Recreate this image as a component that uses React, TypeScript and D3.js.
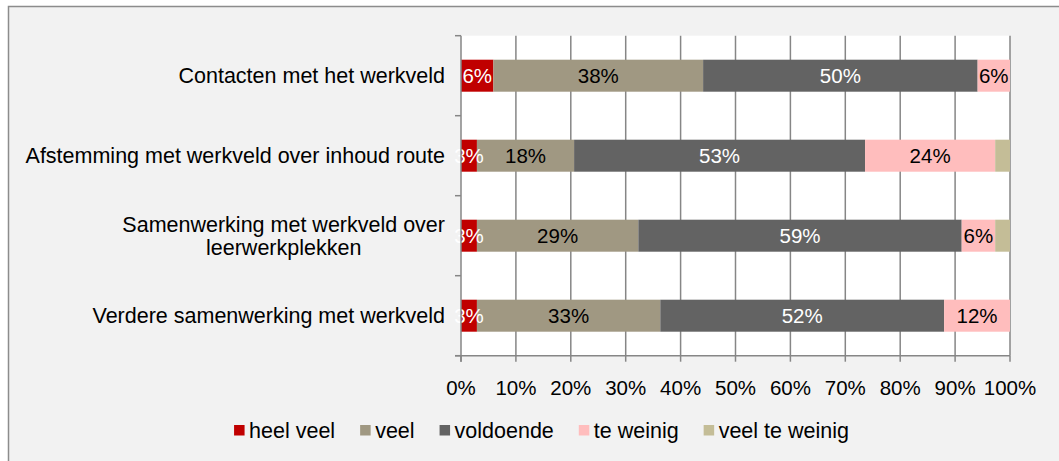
import React from "react";
import * as d3 from "d3";

const categories = [
  "Contacten met het werkveld",
  "Afstemming met werkveld over inhoud route",
  "Samenwerking met werkveld over\nleerwerkplekken",
  "Verdere samenwerking met werkveld",
];
const seriesNames = ["heel veel", "veel", "voldoende", "te weinig", "veel te weinig"];
const heelVeel = [5.9, 2.9, 2.9, 2.9];
const veel = [38.2, 17.7, 29.4, 33.4];
const voldoende = [50.0, 53.0, 58.9, 51.7];
const teWeinig = [5.9, 23.7, 6.1, 12.0];
const veelTeWeinig = [0, 2.7, 2.7, 0];
const labelHeelVeel = ["6%", "3%", "3%", "3%"];
const labelVeel = ["38%", "18%", "29%", "33%"];
const labelVoldoende = ["50%", "53%", "59%", "52%"];
const labelTeWeinig = ["6%", "24%", "6%", "12%"];
const labelVeelTeWeinig = ["", "", "", ""];
const xTicks = [0, 10, 20, 30, 40, 50, 60, 70, 80, 90, 100];

const colors = ["#C00000", "#A09882", "#636363", "#FFBDBD", "#C4BD97"];
const labelColors = ["#ffffff", "#000000", "#ffffff", "#000000", "#000000"];
const FONT = "Liberation Sans, Arial, sans-serif";
const FS = 20.5;
const FS_CAT = 21.5;

function measure(text: string, fs: number): number {
  if (typeof document === "undefined") return text.length * fs * 0.5;
  const c = document.createElement("canvas");
  const ctx = c.getContext("2d");
  if (!ctx) return text.length * fs * 0.5;
  ctx.font = `${fs}px "Liberation Sans"`;
  return ctx.measureText(text).width;
}

export default function App() {
  const W = 1059;
  const H = 461;
  const left = 461;
  const right = 1010;
  const top = 35.7;
  const bottom = 355.7;
  const gridColor = "#868686";

  const x = d3.scaleLinear().domain([0, 100]).range([left, right]);
  const y = d3.scaleBand<string>().domain(categories).range([top, bottom]).padding(0);
  const barH = y.bandwidth() * 0.4;

  const rows = categories.map((c, i) => ({
    cat: c,
    "heel veel": heelVeel[i],
    veel: veel[i],
    voldoende: voldoende[i],
    "te weinig": teWeinig[i],
    "veel te weinig": veelTeWeinig[i],
  }));
  const labels = [labelHeelVeel, labelVeel, labelVoldoende, labelTeWeinig, labelVeelTeWeinig];
  const stacked = d3.stack<any>().keys(seriesNames)(rows);

  // legend layout
  const legendY = 431;
  const legendWidths = seriesNames.map((n) => 15 + measure(n, FS_CAT));
  const gap = 25;
  const totalLegend = d3.sum(legendWidths) + gap * (seriesNames.length - 1);
  let lx = 541.5 - totalLegend / 2;
  const legendPos = legendWidths.map((w) => {
    const p = lx;
    lx += w + gap;
    return p;
  });

  return (
    <svg
      width={W}
      height={H}
      style={{ position: "absolute", left: 0, top: 0, display: "block" }}
      fontFamily={FONT}
    >
      <rect x={0} y={0} width={W} height={H} fill="#ffffff" />
      <rect x={8.5} y={6.5} width={W + 20} height={H + 20} fill="#F2F2F2" stroke="#8c8c8c" strokeWidth={1.5} />
      <rect x={left} y={top} width={right - left} height={bottom - top} fill="#ffffff" />

      {/* vertical gridlines */}
      {xTicks.slice(1).map((t) => (
        <line key={"g" + t} x1={x(t)} x2={x(t)} y1={top} y2={bottom} stroke={gridColor} strokeWidth={1.5} />
      ))}

      {/* bars */}
      {stacked.map((s, si) => (
        <g key={s.key}>
          {s.map((d, i) => {
            const w = x(d[1]) - x(d[0]);
            if (w <= 0) return null;
            const yy = (y(categories[i]) as number) + (y.bandwidth() - barH) / 2;
            return <rect key={i} x={x(d[0])} y={yy} width={w} height={barH} fill={colors[si]} />;
          })}
        </g>
      ))}

      {/* data labels */}
      {stacked.map((s, si) => (
        <g key={"l" + s.key}>
          {s.map((d, i) => {
            const lab = labels[si][i];
            if (!lab) return null;
            const cy = (y(categories[i]) as number) + y.bandwidth() / 2;
            return (
              <text
                key={i}
                x={(x(d[0]) + x(d[1])) / 2}
                y={cy + 7.3}
                textAnchor="middle"
                fontSize={FS}
                fill={labelColors[si]}
              >
                {lab}
              </text>
            );
          })}
        </g>
      ))}

      {/* left axis */}
      <line x1={left} x2={left} y1={top} y2={bottom + 6} stroke={gridColor} strokeWidth={1.5} />
      {[...categories.map((c) => y(c) as number), bottom].map((v, i) => (
        <line key={"yt" + i} x1={left - 6} x2={left} y1={v} y2={v} stroke={gridColor} strokeWidth={1.5} />
      ))}

      {/* bottom axis */}
      <line x1={left - 6} x2={right} y1={bottom} y2={bottom} stroke={gridColor} strokeWidth={1.5} />
      {xTicks.map((t) => (
        <g key={"xt" + t}>
          <line x1={x(t)} x2={x(t)} y1={bottom} y2={bottom + 6} stroke={gridColor} strokeWidth={1.5} />
          <text x={x(t)} y={395} textAnchor="middle" fontSize={FS} fill="#000">
            {t + "%"}
          </text>
        </g>
      ))}

      {/* category labels */}
      {categories.map((c) => {
        const lines = c.split("\n");
        const cy = (y(c) as number) + y.bandwidth() / 2;
        const lh = 22.5;
        const maxW = d3.max(lines, (l) => measure(l, FS_CAT)) as number;
        const cx = 445 - maxW / 2;
        return (
          <g key={"c" + c}>
            {lines.map((l, li) => (
              <text
                key={li}
                x={lines.length > 1 ? cx : 445}
                y={cy + 7.6 + (li - (lines.length - 1) / 2) * lh}
                textAnchor={lines.length > 1 ? "middle" : "end"}
                fontSize={FS_CAT}
                fill="#000"
              >
                {l}
              </text>
            ))}
          </g>
        );
      })}

      {/* legend */}
      {seriesNames.map((n, i) => (
        <g key={"lg" + n}>
          <rect x={legendPos[i]} y={legendY - 6} width={10.5} height={10.5} fill={colors[i]} />
          <text x={legendPos[i] + 15} y={legendY + 6.5} fontSize={FS_CAT} fill="#000">
            {n}
          </text>
        </g>
      ))}
    </svg>
  );
}
